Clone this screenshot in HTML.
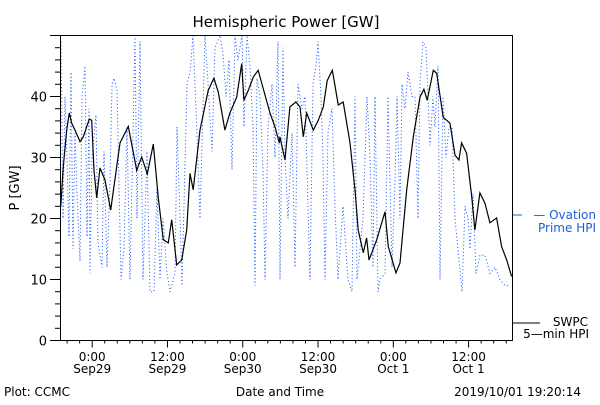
<!DOCTYPE html>
<html><head><meta charset="utf-8"><style>
body{margin:0;background:#fff;width:600px;height:400px;overflow:hidden}
text{font-family:"DejaVu Sans","Liberation Sans",sans-serif}
</style></head><body>
<svg id="chart" width="600" height="400" viewBox="0 0 600 400" xmlns="http://www.w3.org/2000/svg">
<rect width="600" height="400" fill="#fff"/>
<text x="286" y="27" font-size="15" text-anchor="middle">Hemispheric Power [GW]</text>
<text x="0" y="0" font-size="13" text-anchor="middle" transform="translate(19,188) rotate(-90)">P [GW]</text>
<g id="axes"></g>
<g id="series"></g>
<rect x="60.5" y="35.5" width="452" height="305" fill="none" stroke="#000" stroke-width="1"/>
<line x1="513" y1="215" x2="522" y2="215" stroke="#1a5fe0" stroke-width="1"/>
<text x="596" y="219" font-size="12" fill="#1a5fe0" text-anchor="end">— Ovation</text>
<text x="596" y="232" font-size="12" fill="#1a5fe0" text-anchor="end">Prime HPI</text>
<line x1="513" y1="323" x2="540" y2="323" stroke="#000" stroke-width="1"/>
<text x="588" y="326" font-size="12" text-anchor="end">SWPC</text>
<text x="589" y="338" font-size="12" text-anchor="end">5—min HPI</text>
<text x="280" y="396" font-size="12" text-anchor="middle">Date and Time</text>
<text x="4" y="396" font-size="12">Plot: CCMC</text>
<text x="581" y="396" font-size="12" text-anchor="end">2019/10/01 19:20:14</text>
</svg>
<script>
const yTicks=[0,10,20,30,40];
const xTickHours=[0,12,24,36,48,60];
const xTickTime=["0:00","12:00","0:00","12:00","0:00","12:00"];
const xTickDate=["Sep29","Sep29","Sep30","Sep30","Oct 1","Oct 1"];
// hours relative to Sep29 0:00
const swpcHours=[-5.02,-4.61,-4.06,-3.65,-3.27,-2.74,-1.94,-1.42,-0.46,-0.08,0.29,0.72,1.24,2.04,2.95,4.43,5.75,7.09,7.89,8.78,9.74,10.54,11.33,12.13,12.67,13.47,14.27,15.06,15.59,16.11,17.18,18.5,19.41,20.1,21.16,21.96,23.03,23.83,24.19,24.88,25.68,26.47,27.02,28.34,29.14,29.82,29.93,30.73,31.52,32.48,33.12,33.65,34.19,35.24,36.04,36.84,37.47,38.27,39.23,40.02,41.09,41.89,42.41,43.21,43.75,44.12,45.35,46.67,47.2,48.42,49.06,50.13,51.18,52.25,52.88,53.41,54.37,54.91,55.96,57.03,57.83,58.46,58.89,59.69,60.49,61.01,61.81,62.61,63.4,64.47,65.27,66.07,66.86];
const swpcValues=[21.9,28.5,34.5,37.3,35.6,34.5,32.6,33.4,36.3,36.1,27.9,23.4,28.3,26.3,21.4,32.4,35.1,27.9,30.1,27.3,32.2,23.4,16.5,16.0,19.8,12.4,13.2,18.1,27.4,24.7,34.5,41.0,43.0,40.7,34.5,37.3,39.9,45.4,39.4,41.0,43.2,44.3,42.2,37.3,35.0,32.4,33.4,29.6,38.3,39.1,38.3,33.4,37.3,34.5,36.1,38.3,42.6,44.3,38.6,39.1,32.4,24.7,18.1,14.4,16.8,13.2,16.5,21.1,15.4,11.1,12.7,24.7,33.4,39.9,41.2,39.4,44.3,43.8,36.6,35.6,30.4,29.6,32.4,30.7,23.6,18.1,24.2,22.5,19.3,20.1,15.4,13.2,10.5];
const ovX=[61,63,65,67,69,71,73,75,77,80,82,85,87,89,90,92,96,98,102,104,107,110,112,114,117,121,124,127,130,135,137,140,143,147,150,154,157,160,163,167,170,175,177,180,182,187,190,193,196,200,205,207,212,215,220,223,226,229,232,235,238,242,244,247,250,253,255,257,260,263,265,268,272,275,278,280,283,285,288,292,295,298,302,305,310,313,316,318,321,323,325,328,332,335,338,343,348,352,355,357,360,363,367,370,373,375,378,380,385,388,392,395,397,400,402,405,408,412,415,418,420,423,426,430,433,435,438,440,443,446,449,452,455,458,462,465,468,470,473,476,480,485,490,495,500,505,510];
const ovValues=[49,20,40,30,17,44,15,34,24,13,40,45,17,38,11,30,37,16,12,31,12,26,42,43,41,10,15,35,10,50,20,49,10,31,8,8,25,10,20,11,8,11,35,20,9,42,44,50,38,20,50,45,31,48,50,47,40,46,28,50,46,50,35,50,45,35,9,43,40,28,10,35,42,30,49,10,48,30,20,34,12,42,38,40,10,42,45,49,40,30,10,34,38,22,10,22,10,8,40,10,15,20,40,30,12,40,8,10,11,40,12,26,40,20,42,38,44,40,40,20,42,49,48,32,40,35,45,10,40,30,35,35,20,15,8,22,20,15,24,11,14,14,11,12,10,9,9];
const NS="http://www.w3.org/2000/svg";
const X0=60.5,X1=512.5,Y0=340.5,Y1=35.5,YMAX=50;
const H0=-5.05,H1=67.0;
function xScale(h){return X0+(h-H0)/(H1-H0)*(X1-X0);}
function yScale(v){return Y0-v/YMAX*(Y0-Y1);}
function mk(tag,attrs,parent){const e=document.createElementNS(NS,tag);for(const k in attrs)e.setAttribute(k,attrs[k]);parent.appendChild(e);return e;}
const axes=document.getElementById('axes'),series=document.getElementById('series');
for(let v=0;v<=YMAX;v+=2){
  const y=yScale(v),major=v%10===0;
  const t=mk('line',{x1:major?50:55,x2:X0,y1:y,y2:y,stroke:'#000'},axes);
  
  
}
yTicks.forEach(v=>{
  const t=mk('text',{x:47,y:yScale(v)+5,'font-size':13,'text-anchor':'end'},axes);
  t.textContent=v;
  
  
});
for(let h=-4;h<=H1;h+=2){
  const x=xScale(h),major=((h%12)+12)%12===0;
  const t=mk('line',{x1:x,x2:x,y1:Y0,y2:Y0+(major?7:3),stroke:'#000'},axes);
  
  
}
xTickHours.forEach((h,i)=>{
  const x=xScale(h);
  const a=mk('text',{x:x,y:361,'font-size':12,'text-anchor':'middle'},axes);
  a.textContent=xTickTime[i];
  
  
  const b=mk('text',{x:x,y:373,'font-size':12,'text-anchor':'middle'},axes);
  b.textContent=xTickDate[i];
  
  
});
const ovPts=ovX.map((x,i)=>x+','+yScale(ovValues[i]).toFixed(1)).join(' ');
const ov=mk('polyline',{points:ovPts,fill:'none',stroke:'#1050ff','stroke-width':1,'stroke-dasharray':'1 2.5'},series);


const pts=swpcHours.map((h,i)=>xScale(h).toFixed(1)+','+yScale(swpcValues[i]).toFixed(1)).join(' ');
const sw=mk('polyline',{points:pts,fill:'none',stroke:'#000','stroke-width':1.2},series);


</script>
</body></html>
